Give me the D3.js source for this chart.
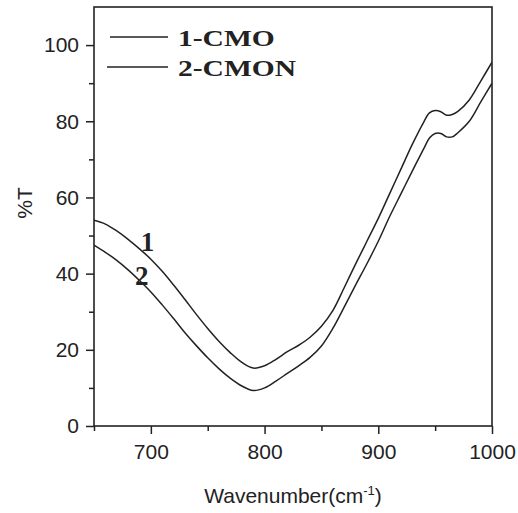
<!DOCTYPE html>
<html>
<head>
<meta charset="utf-8">
<script src="https://cdn.jsdelivr.net/npm/d3@7"></script>
<style>
  body { margin: 0; background: #fff; }
  svg { display: block; }
</style>
</head>
<body>
<div id="chart"></div>
<script>
// wavenumber (cm-1)
var wavenumber = [650, 660, 670, 680, 690, 700, 710, 720, 730, 740, 750, 760, 770, 780, 790,
  800, 810, 820, 830, 840, 850, 860, 870, 880, 890, 900, 910, 920, 930, 940,
  945, 950, 955, 960, 965, 970, 980, 990, 1000];
// curve 1, CMO
var cmo = [54, 53, 51.2, 49, 46.5, 43.8, 40.6, 37, 33.2, 29.3, 25.6, 22.2, 19.2, 16.7, 15.2,
  15.8, 17.5, 19.5, 21.2, 23.3, 26.2, 30.3, 36.3, 42.5, 48.5, 54.5, 61, 67.5, 74, 79.8,
  82.2, 82.8, 82.5, 81.6, 81.8, 82.6, 85.6, 90.5, 95.5];
// curve 2, CMON
var cmon = [47.5, 45.6, 43.5, 41, 38.2, 35.2, 31.8, 28.2, 24.5, 21.1, 17.9, 15, 12.5, 10.5, 9.3,
  10, 11.8, 13.8, 15.8, 18, 21, 25.6, 31.2, 37, 42.6, 48.5, 55, 61, 67, 72.8,
  75.6, 76.8, 76.8, 75.9, 75.9, 77, 80, 85, 90];

var seriesNames = ["1-CMO", "2-CMON"];
var curveLabels = ["1", "2"];
var xMajor = [700, 800, 900, 1000];
var xMinor = [650, 750, 850, 950];
var yMajor = [0, 20, 40, 60, 80, 100];
var yMinor = [10, 30, 50, 70, 90];

var width = 518, height = 513;
var margin = {top: 7, right: 26, bottom: 87, left: 94};
var w = width - margin.left - margin.right;
var h = height - margin.top - margin.bottom;

var svg = d3.select("#chart").append("svg")
  .attr("width", width)
  .attr("height", height);

var g = svg.append("g")
  .attr("transform", "translate(" + margin.left + "," + margin.top + ")");

var x = d3.scaleLinear().domain([650, 1000]).range([0, w]);
var y = d3.scaleLinear().domain([0, 110]).range([h, 0]);

svg.append("defs").append("clipPath").attr("id", "clip")
  .append("rect").attr("width", w).attr("height", h);

var axisFont = "'Liberation Sans', Arial, sans-serif";

// minor ticks first so major ones sit on top
g.append("g")
  .attr("transform", "translate(0," + h + ")")
  .call(d3.axisBottom(x).tickValues(xMinor).tickSize(5).tickFormat(""))
  .call(function(s){ s.select(".domain").remove(); });
g.append("g")
  .call(d3.axisLeft(y).tickValues(yMinor).tickSize(5).tickFormat(""))
  .call(function(s){ s.select(".domain").remove(); });

var xAxis = g.append("g")
  .attr("transform", "translate(0," + h + ")")
  .call(d3.axisBottom(x).tickValues(xMajor).tickSize(8).tickPadding(10).tickFormat(d3.format("d")));
var yAxis = g.append("g")
  .call(d3.axisLeft(y).tickValues(yMajor).tickSize(8).tickPadding(7).tickFormat(d3.format("d")));

[xAxis, yAxis].forEach(function(a){
  a.select(".domain").remove();
  a.selectAll("text")
    .style("font-family", axisFont)
    .style("font-size", "21px")
    .attr("fill", "#222");
});
g.selectAll(".tick line").attr("stroke", "#222").attr("stroke-width", 1.5);

// frame
g.append("rect")
  .attr("width", w).attr("height", h)
  .attr("fill", "none")
  .attr("stroke", "#222")
  .attr("stroke-width", 1.6);

var line = d3.line()
  .x(function(d, i){ return x(wavenumber[i]); })
  .y(function(d){ return y(d); })
  .curve(d3.curveCatmullRom.alpha(0.5));

g.append("g").attr("clip-path", "url(#clip)")
  .selectAll("path")
  .data([cmo, cmon])
  .enter()
  .append("path")
  .attr("d", line)
  .attr("fill", "none")
  .attr("stroke", "#222")
  .attr("stroke-width", 1.5);

// curve numbers next to the lines
g.selectAll(".clabel")
  .data(curveLabels)
  .enter()
  .append("text")
  .attr("class", "clabel")
  .attr("x", function(d, i){ return x(i === 0 ? 697 : 692); })
  .attr("y", function(d, i){ return y(i === 0 ? 46 : 37); })
  .attr("text-anchor", "middle")
  .style("font-family", "'Liberation Serif', 'Times New Roman', serif")
  .style("font-weight", "bold")
  .style("font-size", "27px")
  .attr("fill", "#222")
  .text(function(d){ return d; });

// legend
var legend = g.selectAll(".legend")
  .data(seriesNames)
  .enter()
  .append("g")
  .attr("class", "legend")
  .attr("transform", function(d, i){ return "translate(0," + (30 + i * 30) + ")"; });

legend.append("line")
  .attr("x1", function(d, i){ return i === 0 ? 16 : 13; })
  .attr("x2", 74)
  .attr("y1", 0).attr("y2", 0)
  .attr("stroke", "#222")
  .attr("stroke-width", 1.6);

legend.append("text")
  .attr("transform", "translate(84,9) scale(1.23,1)")
  .style("font-family", "'Liberation Serif', 'Times New Roman', serif")
  .style("font-weight", "bold")
  .style("font-size", "24px")
  .attr("fill", "#222")
  .text(function(d){ return d; });

// axis titles
var xt = svg.append("text")
  .attr("x", margin.left + x(825))
  .attr("y", 503)
  .attr("text-anchor", "middle")
  .style("font-family", axisFont)
  .style("font-size", "21px")
  .attr("fill", "#222");
xt.append("tspan").text("Wavenumber(cm");
xt.append("tspan").attr("dy", -8).style("font-size", "13px").text("-1");
xt.append("tspan").attr("dy", 8).text(")");

svg.append("text")
  .attr("transform", "translate(32,203) rotate(-90)")
  .attr("text-anchor", "middle")
  .style("font-family", axisFont)
  .style("font-size", "21px")
  .attr("fill", "#222")
  .text("%T");
</script>
</body>
</html>
